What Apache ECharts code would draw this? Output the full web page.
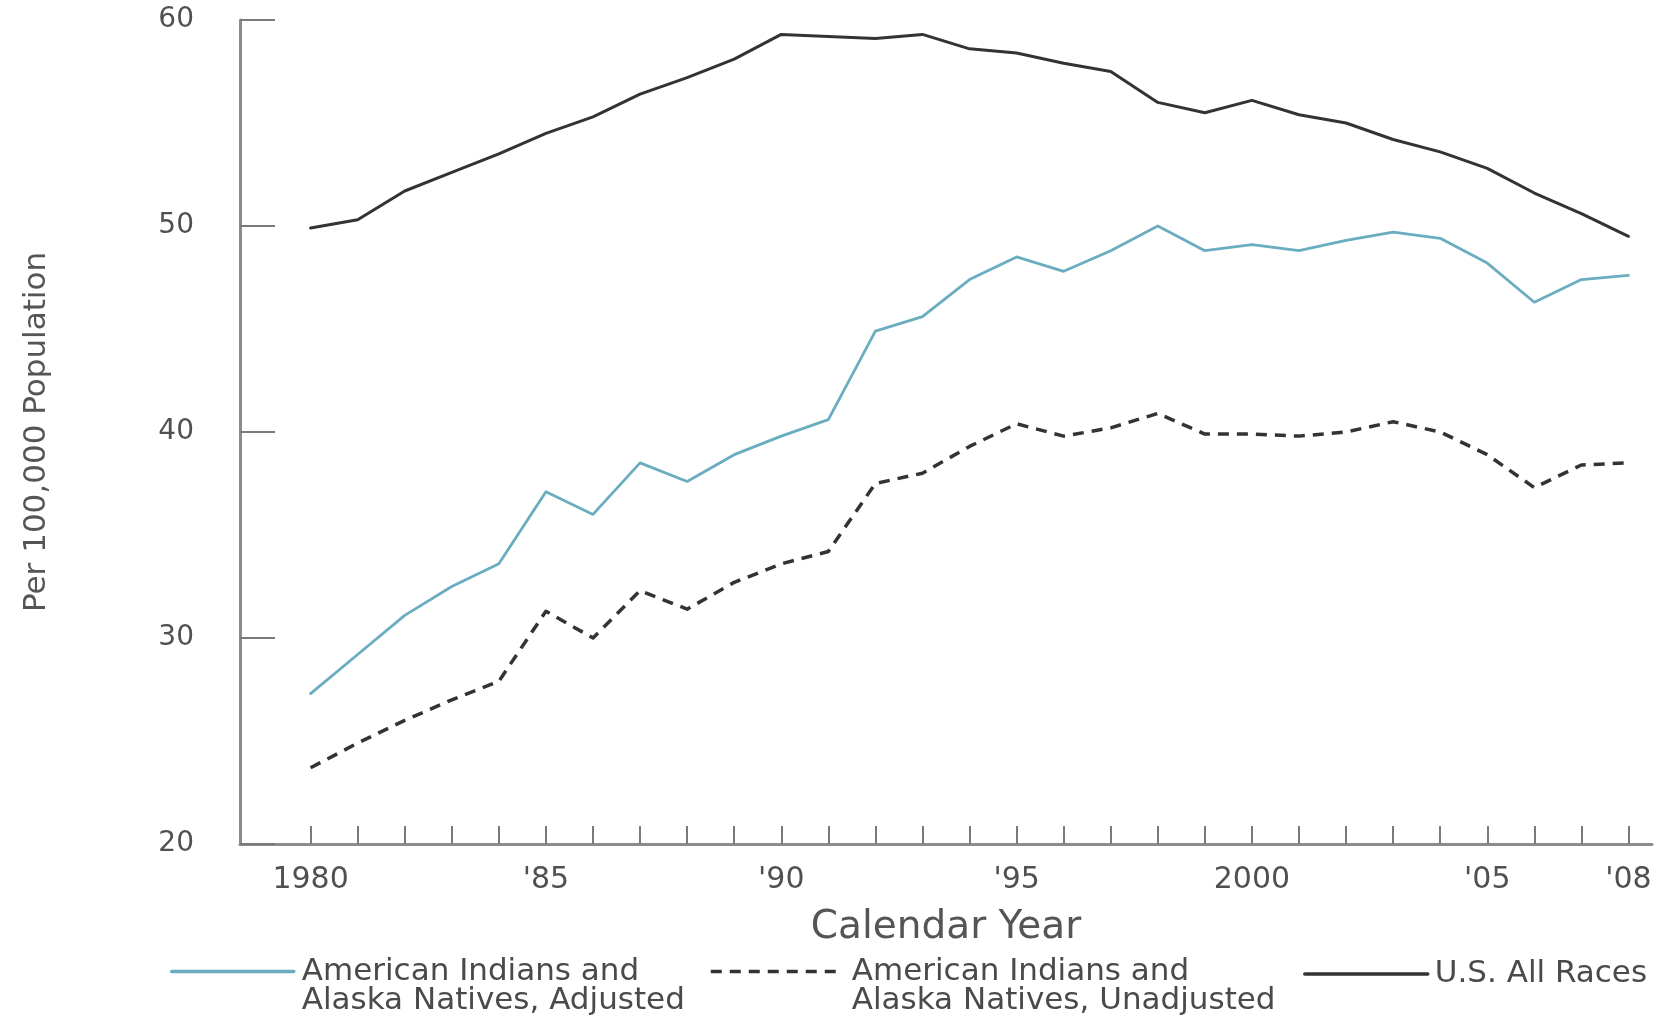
<!DOCTYPE html>
<html>
<head>
<meta charset="utf-8">
<script src="https://cdn.jsdelivr.net/npm/echarts@6/dist/echarts.min.js"></script>
<style>
  html, body { margin: 0; padding: 0; background: #ffffff; }
  #chart { width: 1659px; height: 1020px; }
</style>
</head>
<body>
<div id="chart"></div>
<script>
// ---- Data ----
var years = [1980,1981,1982,1983,1984,1985,1986,1987,1988,1989,1990,1991,1992,1993,1994,1995,1996,1997,1998,1999,2000,2001,2002,2003,2004,2005,2006,2007,2008];
var adjusted = [27.3,29.2,31.1,32.5,33.6,37.1,36.0,38.5,37.6,38.9,39.8,40.6,44.9,45.6,47.4,48.5,47.8,48.8,50.0,48.8,49.1,48.8,49.3,49.7,49.4,48.2,46.3,47.4,47.6];
var unadjusted = [23.7,24.9,26.0,27.0,27.9,31.3,30.0,32.3,31.4,32.7,33.6,34.2,37.5,38.0,39.3,40.4,39.8,40.2,40.9,39.9,39.9,39.8,40.0,40.5,40.0,38.9,37.3,38.4,38.5];
var usAllRaces = [49.9,50.3,51.7,52.6,53.5,54.5,55.3,56.4,57.2,58.1,59.3,59.2,59.1,59.3,58.6,58.4,57.9,57.5,56.0,55.5,56.1,55.4,55.0,54.2,53.6,52.8,51.6,50.6,49.5];
var labelYears = [1980,1985,1990,1995,2000,2005,2008];
var tickLabels = ['1980',"'85","'90","'95",'2000',"'05","'08"];
var seriesNames = [
  'American Indians and\nAlaska Natives, Adjusted',
  'American Indians and\nAlaska Natives, Unadjusted',
  'U.S. All Races'
];

function pairs(vals) { return years.map(function (y, i) { return [y, vals[i]]; }); }

var FONT = 'DejaVu Sans';
var LEG_FS = 31, LEG_LH = 29;
var chart = echarts.init(document.getElementById('chart'), null, { renderer: 'canvas' });

function legendFor(name, left, iconW, gap) {
  return {
    data: [name],
    left: left,
    top: 0,
    padding: 0,
    itemWidth: iconW,
    itemHeight: 14,
    selectedMode: false,
    itemStyle: { color: 'rgba(0,0,0,0)', borderWidth: 0, opacity: 0 },
    lineStyle: { width: 3.5 },
    formatter: function (n) {
      var parts = n.split('\n');
      var body = parts.map(function (p) { return '{g|}{t|' + p + '}'; }).join('\n');
      return parts.length > 1 ? '{t| }\n' + body : body;
    },
    textStyle: {
      fontFamily: FONT, fontSize: LEG_FS, color: '#4a4a4a', lineHeight: LEG_LH,
      rich: {
        t: { fontFamily: FONT, fontSize: LEG_FS, color: '#4a4a4a', lineHeight: LEG_LH },
        g: { width: gap, lineHeight: LEG_LH }
      }
    }
  };
}

var legends = [
  legendFor(seriesNames[0], 170, 122, 3),
  legendFor(seriesNames[1], 709, 127, 9),
  legendFor(seriesNames[2], 1303, 123, 2)
];
// vertical placement: icon centre at y ~ 971 px
legends[0].top = 927;
legends[1].top = 927;
legends[2].top = 973 - LEG_LH / 2;

var option = {
  backgroundColor: '#ffffff',
  animation: false,
  grid: { left: 240, right: 7, top: 20, bottom: 176, containLabel: false },
  legend: legends,
  xAxis: {
    type: 'value',
    min: 1978.5,
    max: 2008.5,
    name: 'Calendar Year',
    nameLocation: 'middle',
    nameGap: 64,
    nameTextStyle: { fontFamily: FONT, fontSize: 39, color: '#555555' },
    axisLine: { show: true, lineStyle: { color: '#8c8c8c', width: 3 } },
    axisTick: {
      show: true, inside: true, length: 18,
      customValues: years,
      lineStyle: { color: '#7a7a7a', width: 2 }
    },
    axisLabel: {
      customValues: labelYears,
      margin: 21,
      fontFamily: FONT, fontSize: 30, color: '#505050',
      formatter: function (v) {
        var i = labelYears.indexOf(Math.round(v));
        return i >= 0 ? tickLabels[i] : '';
      }
    },
    splitLine: { show: false }
  },
  yAxis: {
    type: 'value',
    min: 20,
    max: 60,
    interval: 10,
    name: 'Per 100,000 Population',
    nameLocation: 'middle',
    nameGap: 188,
    nameTextStyle: { fontFamily: FONT, fontSize: 31, color: '#555555' },
    axisLine: { show: true, lineStyle: { color: '#8c8c8c', width: 3 } },
    axisTick: { show: true, inside: true, length: 35, lineStyle: { color: '#7a7a7a', width: 2 } },
    axisLabel: { margin: 46, fontFamily: FONT, fontSize: 28, color: '#505050' },
    splitLine: { show: false }
  },
  series: [
    {
      name: seriesNames[0], type: 'line', data: pairs(adjusted),
      symbol: 'none', z: 3,
      lineStyle: { color: '#6aacc0', width: 2.8, cap: 'round', join: 'round' },
      itemStyle: { color: '#6aacc0' }
    },
    {
      name: seriesNames[1], type: 'line', data: pairs(unadjusted),
      symbol: 'none', z: 3,
      lineStyle: { color: '#333333', width: 3.5, type: [11, 8], join: 'round' },
      itemStyle: { color: '#333333' }
    },
    {
      name: seriesNames[2], type: 'line', data: pairs(usAllRaces),
      symbol: 'none', z: 3,
      lineStyle: { color: '#333333', width: 3, cap: 'round', join: 'round' },
      itemStyle: { color: '#333333' }
    }
  ]
};
chart.setOption(option);
</script>
</body>
</html>
